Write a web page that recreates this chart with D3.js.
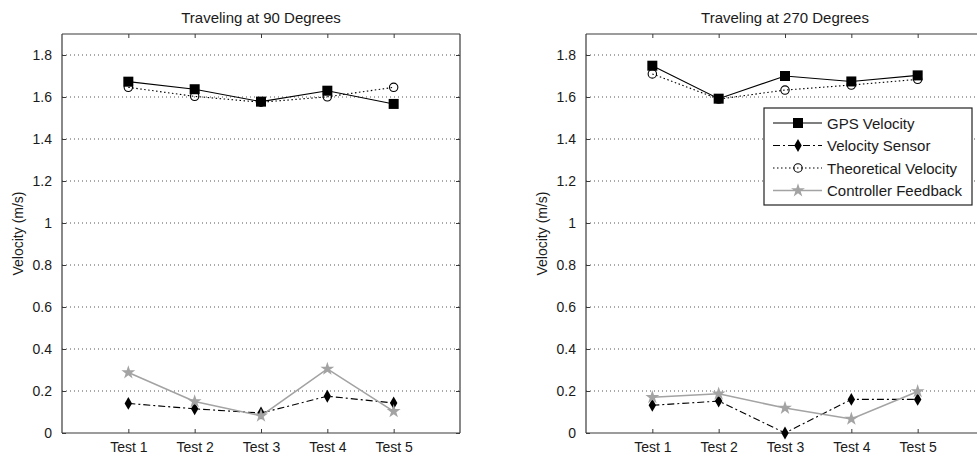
<!DOCTYPE html>
<html>
<head>
<meta charset="utf-8">
<script src="https://cdn.jsdelivr.net/npm/d3@7"></script>
<style>
  html, body { margin: 0; padding: 0; background: #fff; }
  svg { display: block; font-family: "Liberation Sans", Arial, sans-serif; }
</style>
</head>
<body>
<svg id="chart" width="977" height="457"></svg>
<script>
// Test runs along the x axis
const tests = ["Test 1", "Test 2", "Test 3", "Test 4", "Test 5"];
const yTicks = [0, 0.2, 0.4, 0.6, 0.8, 1, 1.2, 1.4, 1.6, 1.8];

// Traveling at 90 degrees
const gps90        = [1.673, 1.637, 1.578, 1.630, 1.567];
const sensor90     = [0.141, 0.115, 0.095, 0.175, 0.143];
const theory90     = [1.646, 1.603, 1.575, 1.601, 1.646];
const controller90 = [0.288, 0.150, 0.082, 0.305, 0.103];

// Traveling at 270 degrees
const gps270        = [1.749, 1.592, 1.700, 1.674, 1.703];
const sensor270     = [0.132, 0.152, 0.000, 0.160, 0.160];
const theory270     = [1.710, 1.590, 1.633, 1.657, 1.684];
const controller270 = [0.170, 0.187, 0.119, 0.067, 0.198];

const seriesNames = ["GPS Velocity", "Velocity Sensor", "Theoretical Velocity", "Controller Feedback"];

const styles = [
  { color: "#000", dash: null,        width: 1.1, marker: "square"  },
  { color: "#000", dash: "7,3,2,3",   width: 1.1, marker: "diamond" },
  { color: "#000", dash: "1.5,2.5",   width: 1.1, marker: "circle"  },
  { color: "#a3a3a3", dash: null,     width: 1.6, marker: "star"    }
];

const svg = d3.select("#chart");
const axisColor = "#3a3a3a";
const textColor = "#1a1a1a";

function drawMarker(g, type, x, y, color) {
  if (type === "square") {
    g.append("rect").attr("x", x - 5).attr("y", y - 5).attr("width", 10).attr("height", 10)
      .attr("fill", color);
  } else if (type === "diamond") {
    g.append("path").attr("d", d3.symbol(d3.symbolDiamond, 48)())
      .attr("transform", `translate(${x},${y})`).attr("fill", color);
  } else if (type === "circle") {
    g.append("circle").attr("cx", x).attr("cy", y).attr("r", 4.2)
      .attr("fill", "none").attr("stroke", color).attr("stroke-width", 1.1);
  } else if (type === "star") {
    g.append("path").attr("d", d3.symbol(d3.symbolStar, 60)())
      .attr("transform", `translate(${x},${y})`).attr("fill", color);
  }
}

function panel(left, title, seriesData, withLegend) {
  const x = d3.scaleLinear().domain([0, 6]).range([left, left + 398]);
  const y = d3.scaleLinear().domain([0, 1.9]).range([433, 34]);
  const g = svg.append("g");

  // horizontal dotted grid
  g.append("g").selectAll("line").data(yTicks.slice(1)).join("line")
    .attr("x1", x(0)).attr("x2", x(6))
    .attr("y1", d => y(d)).attr("y2", d => y(d))
    .attr("stroke", "#555").attr("stroke-width", 1)
    .attr("stroke-dasharray", "1,3");

  // left and bottom axes with inward ticks
  const yAxis = d3.axisLeft(y).tickValues(yTicks).tickSize(-4).tickPadding(10)
    .tickFormat(d3.format("~g"));
  const yg = g.append("g").attr("transform", `translate(${x(0)},0)`).call(yAxis);
  const xAxis = d3.axisBottom(x).tickValues([1, 2, 3, 4, 5]).tickSize(-4).tickPadding(9)
    .tickFormat(d => tests[d - 1]);
  const xg = g.append("g").attr("transform", `translate(0,${y(0)})`).call(xAxis);
  // mirrored top and right axes
  const xt = g.append("g").attr("transform", `translate(0,${y(1.9)})`)
    .call(d3.axisTop(x).tickValues([1, 2, 3, 4, 5]).tickSize(-4).tickFormat(""));
  const yr = g.append("g").attr("transform", `translate(${x(6)},0)`)
    .call(d3.axisRight(y).tickValues(yTicks).tickSize(-4).tickFormat(""));

  [yg, xg, xt, yr].forEach(a => {
    a.select(".domain").attr("stroke", axisColor).attr("stroke-width", 1.2);
    a.selectAll(".tick line").attr("stroke", axisColor);
    a.selectAll("text").attr("fill", textColor).attr("font-size", 14)
      .attr("font-family", "Liberation Sans, Arial, sans-serif");
  });
  yg.selectAll(".domain").attr("d", `M0,${y(0)}V${y(1.9)}`);
  xg.selectAll(".domain").attr("d", `M${x(0)},0H${x(6)}`);
  xt.selectAll(".domain").attr("d", `M${x(0)},0H${x(6)}`);
  yr.selectAll(".domain").attr("d", `M0,${y(0)}V${y(1.9)}`);

  // title
  g.append("text").attr("x", (x(0) + x(6)) / 2).attr("y", 23)
    .attr("text-anchor", "middle").attr("font-size", 15).attr("fill", textColor).text(title);

  // y label
  g.append("text")
    .attr("transform", `translate(${x(0) - 44},${(y(0) + y(1.9)) / 2}) rotate(-90)`)
    .attr("dy", "0.35em")
    .attr("text-anchor", "middle").attr("font-size", 14).attr("fill", textColor)
    .text("Velocity (m/s)");

  // series lines then markers
  const line = d3.line().x((d, i) => x(i + 1)).y(d => y(d));
  seriesData.forEach((vals, k) => {
    const s = styles[k];
    const sg = g.append("g");
    sg.append("path").attr("d", line(vals)).attr("fill", "none")
      .attr("stroke", s.color).attr("stroke-width", s.width)
      .attr("stroke-dasharray", s.dash);
    vals.forEach((v, i) => drawMarker(sg, s.marker, x(i + 1), y(v), s.color));
  });

  if (withLegend) {
    const lg = g.append("g");
    lg.append("rect").attr("x", 764).attr("y", 108).attr("width", 208).attr("height", 97)
      .attr("fill", "#fff").attr("stroke", "#222").attr("stroke-width", 1.2);
    seriesNames.forEach((name, k) => {
      const s = styles[k];
      const ry = 123 + k * 22.5;
      lg.append("line").attr("x1", 773).attr("x2", 822).attr("y1", ry).attr("y2", ry)
        .attr("stroke", s.color).attr("stroke-width", s.width)
        .attr("stroke-dasharray", s.dash);
      drawMarker(lg, s.marker, 798, ry, s.color);
      lg.append("text").attr("x", 827).attr("y", ry + 5.5).attr("font-size", 15)
        .attr("fill", textColor).text(name);
    });
  }
}

panel(62, "Traveling at 90 Degrees", [gps90, sensor90, theory90, controller90], false);
panel(586, "Traveling at 270 Degrees", [gps270, sensor270, theory270, controller270], true);
</script>
</body>
</html>
